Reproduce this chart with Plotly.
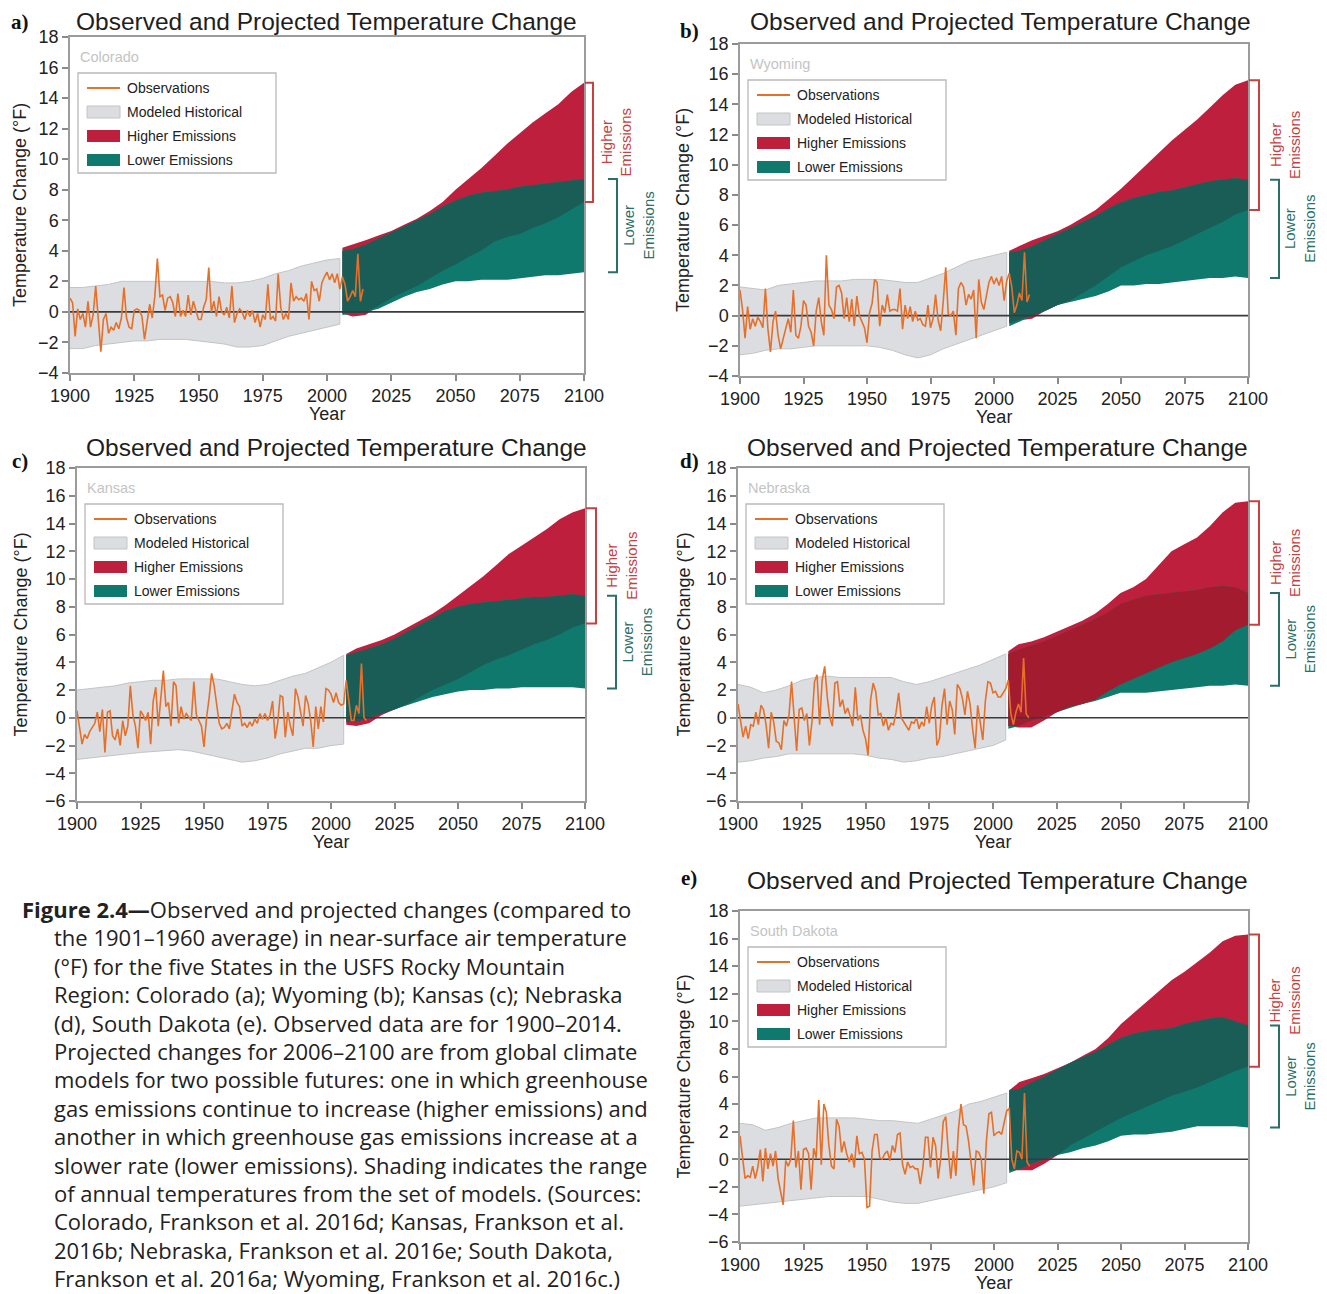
import plotly.graph_objects as go

W, H = 1327, 1294

# ---------------------------------------------------------------- data
TITLE = "Observed and Projected Temperature Change"
STATES = ["Colorado", "Wyoming", "Kansas", "Nebraska", "South Dakota"]
LETTERS = ["a)", "b)", "c)", "d)", "e)"]
LEGEND_LABELS = ["Observations", "Modeled Historical", "Higher Emissions", "Lower Emissions"]
X_TICKS = [1900, 1925, 1950, 1975, 2000, 2025, 2050, 2075, 2100]
Y_RANGES = [(-4, 18), (-4, 18), (-6, 18), (-6, 18), (-6, 18)]

OBS_YEARS = list(range(1900, 2015))
HIST_YEARS = list(range(1900, 2006, 5))
PROJ_YEARS = [2006] + list(range(2010, 2101, 5))

# Colorado
CO_OBS = [0.9, 0.6, -1.6, 0.2, -0.5, -0.1, -1.0, 0.7, -1.0, -0.2,
          1.7, -0.7, -2.6, -0.5, -0.1, -1.4, -1.0, -1.2, -0.7, -1.1,
          -0.4, 1.6, -0.4, -1.0, -1.1, 0.1, 0.2, 0.1, -0.3, -1.8,
          -0.7, 0.5, -0.4, 1.0, 3.5, 1.0, 1.1, 0.1, 0.9, 1.0,
          0.6, -0.3, 1.2, -0.3, 0.1, -0.3, 1.1, -0.2, 0.7, 0.1,
          -0.5, -0.5, 0.3, 0.8, 2.9, 0.0, 0.7, -0.3, 1.0, 0.0,
          -0.2, 0.3, -0.4, 1.7, -0.7, -0.1, 0.2, 0.0, -0.5, 0.1,
          -0.3, 0.1, -0.7, -0.1, -1.0, -0.2, -0.5, 1.8, -0.5, -0.3,
          -0.6, 2.5, 0.3, -0.5, -0.1, -0.5, 1.9, 0.7, 1.0, 0.8,
          0.9, 0.7, 1.2, -0.5, 2.0, 1.4, 1.5, 0.7, 1.9, 2.3,
          2.6, 2.1, 2.5, 1.9, 2.5, 1.5, 2.3, 1.8, 0.7, 1.0,
          1.4, 1.0, 3.8, 0.7, 1.5]
CO_HIST_HI = [1.6, 1.6, 1.7, 1.8, 2.0, 2.0, 2.0, 2.0, 2.0, 2.0, 2.0,
              2.0, 1.9, 1.9, 2.0, 2.2, 2.5, 2.7, 3.0, 3.2, 3.4, 3.5]
CO_HIST_LO = [-2.4, -2.4, -2.2, -2.1, -2.0, -1.9, -1.9, -1.8, -1.8, -1.8, -1.9,
              -2.0, -2.1, -2.3, -2.3, -2.2, -1.9, -1.6, -1.4, -1.2, -1.0, -0.8]
CO_HIGH_MAX = [4.2, 4.4, 4.7, 5.0, 5.3, 5.7, 6.1, 6.6, 7.2, 8.0,
               8.7, 9.4, 10.2, 11.0, 11.7, 12.4, 13.0, 13.6, 14.4, 15.0]
CO_HIGH_MIN = [-0.1, -0.3, -0.2, 0.4, 0.9, 1.3, 1.7, 2.2, 2.7, 3.1,
               3.6, 4.0, 4.6, 4.9, 5.1, 5.5, 5.8, 6.2, 6.7, 7.2]
CO_LOW_MAX = [4.0, 4.1, 4.4, 4.8, 5.2, 5.6, 6.0, 6.4, 6.9, 7.3,
              7.6, 7.8, 7.9, 8.0, 8.2, 8.3, 8.4, 8.5, 8.6, 8.7]
CO_LOW_MIN = [-0.2, -0.1, 0.0, 0.2, 0.6, 1.0, 1.3, 1.5, 1.8, 2.0,
              2.0, 2.1, 2.1, 2.1, 2.2, 2.3, 2.4, 2.4, 2.5, 2.6]

# Wyoming
WY_OBS = [1.7, 0.4, -1.5, 0.6, -0.9, -0.2, -0.7, -0.1, -0.4, -0.8,
          1.8, -0.9, -2.4, -0.4, 0.3, -1.3, -2.2, -1.5, -0.7, -0.2,
          -1.1, 1.7, -1.3, -1.5, -0.7, 1.0, 0.7, -0.7, -1.1, -2.0,
          0.3, 1.2, -0.4, -1.3, 4.0, 0.7, 0.4, -0.2, 1.9, 2.0,
          1.5, -0.2, 1.2, -0.4, 1.1, -0.7, 1.3, 0.0, -0.4, -0.8,
          -1.8, 0.2, 0.8, 2.4, 2.2, -0.7, 0.7, 0.2, 1.4, 0.3,
          0.4, 0.4, 0.3, 1.8, -0.9, 0.7, -0.2, 0.6, -0.4, 0.3,
          -0.3, -0.2, -0.6, -0.7, 0.7, -0.8, -0.2, 1.4, -0.3, -1.0,
          0.9, 3.2, 0.1, 0.0, 0.3, -1.3, 1.8, 2.2, 1.9, 0.7,
          1.4, 1.1, 1.7, -1.5, 2.4, 0.9, 0.4, 1.3, 2.2, 2.6,
          2.1, 2.5, 2.0, 2.6, 1.0, 2.3, 2.8, 1.9, 0.2, 0.7,
          1.5, 1.0, 4.2, 0.9, 1.4]
WY_HIST_HI = [1.9, 1.8, 1.7, 2.0, 2.1, 2.2, 2.3, 2.3, 2.3, 2.4, 2.4,
              2.4, 2.3, 2.2, 2.2, 2.5, 2.8, 3.2, 3.6, 3.8, 4.0, 4.2]
WY_HIST_LO = [-2.6, -2.5, -2.3, -2.2, -2.2, -2.1, -2.0, -2.0, -2.0, -2.0, -2.0,
              -2.1, -2.3, -2.6, -2.8, -2.6, -2.2, -1.9, -1.6, -1.3, -1.0, -0.7]
WY_HIGH_MAX = [4.3, 4.6, 5.0, 5.3, 5.6, 6.0, 6.5, 7.0, 7.7, 8.4,
               9.2, 10.0, 10.8, 11.6, 12.3, 13.0, 13.8, 14.6, 15.3, 15.6]
WY_HIGH_MIN = [-0.5, -0.3, -0.2, 0.3, 0.7, 1.0, 1.5, 2.0, 2.6, 3.2,
               3.6, 4.0, 4.3, 4.6, 5.0, 5.4, 5.8, 6.2, 6.7, 7.0]
WY_LOW_MAX = [4.2, 4.3, 4.6, 5.0, 5.4, 5.8, 6.2, 6.6, 7.1, 7.5,
              7.8, 8.0, 8.2, 8.3, 8.5, 8.7, 8.9, 9.0, 9.1, 9.0]
WY_LOW_MIN = [-0.7, -0.4, 0.0, 0.3, 0.7, 0.9, 1.1, 1.3, 1.6, 2.0,
              2.0, 2.1, 2.1, 2.2, 2.3, 2.4, 2.5, 2.5, 2.6, 2.5]

# Kansas
KS_OBS = [0.5, -0.6, -1.9, -1.2, -1.5, -1.0, -0.7, -0.4, 0.4, -1.0,
          0.6, -2.5, 0.4, 0.5, -1.3, -1.6, -0.8, -2.0, -0.2, -1.3,
          -0.6, 2.3, 0.2, -0.6, -2.2, 0.5, 0.2, -0.2, 0.4, -1.9,
          1.2, 2.2, -0.6, 1.6, 3.4, 0.8, 1.1, -0.6, 2.6, 2.3,
          -0.4, 0.8, -0.1, 0.3, 0.0, -0.2, 2.6, 0.2, -0.2, -0.6,
          -2.1, 0.0, 1.4, 3.2, 2.3, 1.0, -0.4, -0.8, -0.7, -0.4,
          -0.8, 0.5, 1.7, 1.1, 0.8, -0.6, -0.4, -0.7, -0.3, -0.6,
          -0.1, -0.4, 0.3, -0.1, 0.3, -0.2, 0.2, 1.2, -1.5, -0.4,
          1.6, 1.5, -1.4, 0.4, -0.6, -1.3, 2.1, 1.5, 0.3, -0.6,
          1.6, 1.0, -0.2, -2.1, 0.8, -0.8, 0.8, -0.3, 2.1, 2.0,
          1.7, 1.1, 1.8, 1.1, 0.9, 1.0, 2.7, 1.4, -0.2, -0.2,
          0.9, 0.3, 3.9, 0.0, -0.2]
KS_HIST_HI = [2.0, 2.1, 2.2, 2.3, 2.5, 2.6, 2.7, 2.7, 2.8, 2.8, 2.8,
              2.8, 2.6, 2.4, 2.3, 2.4, 2.7, 3.0, 3.2, 3.6, 4.0, 4.5]
KS_HIST_LO = [-3.0, -2.9, -2.8, -2.7, -2.6, -2.5, -2.4, -2.35, -2.3, -2.4, -2.6,
              -2.8, -3.0, -3.2, -3.1, -2.9, -2.6, -2.4, -2.2, -2.2, -2.0, -1.9]
KS_HIGH_MAX = [4.6, 5.0, 5.3, 5.6, 6.0, 6.5, 7.0, 7.5, 8.1, 8.8,
               9.5, 10.2, 11.0, 11.8, 12.4, 13.0, 13.6, 14.3, 14.8, 15.1]
KS_HIGH_MIN = [-0.5, -0.6, -0.4, 0.2, 0.6, 1.0, 1.5, 2.0, 2.4, 2.8,
               3.3, 3.8, 4.2, 4.5, 4.9, 5.3, 5.6, 6.0, 6.5, 6.8]
KS_LOW_MAX = [4.5, 4.7, 5.0, 5.3, 5.7, 6.2, 6.7, 7.2, 7.7, 8.0,
              8.2, 8.3, 8.4, 8.5, 8.6, 8.7, 8.7, 8.8, 8.9, 8.8]
KS_LOW_MIN = [-0.3, -0.3, 0.0, 0.3, 0.6, 0.9, 1.2, 1.5, 1.7, 1.9,
              2.0, 2.0, 2.1, 2.1, 2.2, 2.2, 2.2, 2.2, 2.2, 2.1]

# Nebraska
NE_OBS = [1.0, -0.3, -1.4, -0.6, -1.5, -0.5, -0.6, 0.4, -0.5, 0.9,
          0.6, -0.5, -2.2, 0.4, -0.3, -1.7, -1.8, -2.3, -0.2, -0.6,
          0.2, 2.6, -0.3, -2.4, 0.6, 0.7, -0.2, 0.3, -2.0, -0.3,
          2.6, 3.1, -0.5, 2.7, 3.7, 1.5, 0.0, -0.6, 2.5, 2.6,
          0.8, 1.3, 0.3, 0.7, 0.1, -0.6, 2.2, -0.2, 0.2, -0.9,
          -1.5, -2.7, 1.3, 2.5, 1.9, 0.2, 0.3, -0.6, 0.0, -0.9,
          -0.4, -0.5, 0.4, 1.8, 0.0, -0.3, -0.5, -0.9, -0.3, -0.4,
          0.0, -0.8, -0.3, -0.6, 0.8, -0.4, 0.9, 1.5, -2.0, -1.5,
          0.9, 2.1, -0.5, 1.2, 0.6, -1.2, 2.4, 2.1, 1.4, 0.2,
          1.9, 1.0, -0.8, -2.2, 0.9, -0.2, -1.6, 1.2, 2.6, 2.5,
          1.8, 1.9, 1.5, 1.5, 1.8, 2.1, 2.7, 0.3, -0.5, 0.4,
          1.0, 0.4, 4.3, 0.3, 0.0]
NE_HIST_HI = [2.4, 2.2, 1.8, 2.0, 2.3, 2.7, 2.9, 3.0, 2.9, 2.9, 2.9,
              2.9, 2.9, 2.6, 2.4, 2.6, 2.9, 3.2, 3.5, 3.8, 4.2, 4.6]
NE_HIST_LO = [-3.2, -3.1, -2.9, -2.8, -2.6, -2.6, -2.6, -2.6, -2.6, -2.6, -2.7,
              -2.9, -3.0, -3.2, -3.1, -2.9, -2.8, -2.6, -2.4, -2.2, -2.0, -1.6]
NE_HIGH_MAX = [4.8, 5.3, 5.5, 5.8, 6.2, 6.6, 7.0, 7.5, 8.2, 9.0,
               9.4, 10.0, 11.0, 12.0, 12.5, 13.0, 13.8, 14.8, 15.5, 15.6]
NE_HIGH_MIN = [-0.6, -0.7, -0.7, -0.2, 0.4, 0.8, 1.0, 1.3, 1.9, 2.4,
               2.8, 3.2, 3.6, 4.0, 4.3, 4.6, 5.0, 5.5, 6.3, 6.7]
NE_LOW_MAX = [4.6, 4.9, 5.2, 5.5, 5.9, 6.3, 6.7, 7.1, 7.6, 8.2,
              8.5, 8.8, 8.9, 9.0, 9.1, 9.2, 9.4, 9.5, 9.4, 9.0]
NE_LOW_MIN = [-0.8, -0.6, -0.2, 0.1, 0.4, 0.7, 1.0, 1.2, 1.5, 1.8,
              1.8, 1.8, 1.9, 2.0, 2.1, 2.2, 2.3, 2.3, 2.4, 2.3]

# South Dakota
SD_OBS = [1.7, 0.2, -1.4, -1.2, -1.3, -0.5, -1.4, -0.6, 0.7, -1.6,
          0.8, -0.7, 0.4, -0.5, 0.6, -1.4, -2.4, -3.3, -0.1, -0.5,
          0.0, 2.8, -0.6, 0.6, -2.2, 0.7, 0.8, 0.4, -2.2, 0.8,
          0.1, 4.3, -0.4, 4.0, 3.4, 1.0, -0.5, -0.7, 2.9, 2.4,
          0.5, 1.3, 0.4, -0.2, 0.4, -0.6, 1.7, 0.4, 0.5, 0.0,
          -3.5, -3.4, 0.6, 1.8, 1.8, 0.1, 0.0, 0.4, 0.6, -0.1,
          1.0, 0.5, 1.8, 1.9, -0.4, -1.1, -0.2, -0.6, -0.5, -0.7,
          -0.7, -1.8, -0.6, 1.6, 1.6, -0.6, 1.6, 1.0, -1.4, 0.0,
          2.7, 3.1, 0.6, -1.4, 0.6, -1.2, 2.2, 4.0, 2.5, 2.4,
          1.3, -0.2, -1.9, 0.6, 0.5, 0.0, -2.5, 1.3, 3.3, 3.4,
          1.7, 1.9, 2.0, 1.8, 2.7, 3.5, 3.7, 0.0, -0.7, 0.6,
          0.5, 0.0, 4.8, -0.2, -0.5]
SD_HIST_HI = [2.6, 2.5, 2.1, 2.3, 2.6, 2.8, 3.0, 3.0, 3.0, 3.0, 2.9,
              2.8, 2.8, 2.7, 2.6, 2.9, 3.2, 3.5, 4.0, 4.2, 4.5, 4.8]
SD_HIST_LO = [-3.4, -3.3, -3.2, -3.1, -3.0, -2.9, -2.8, -2.7, -2.7, -2.7, -2.7,
              -2.9, -3.1, -3.2, -3.2, -3.0, -2.8, -2.6, -2.4, -2.2, -2.0, -1.7]
SD_HIGH_MAX = [5.0, 5.6, 5.9, 6.2, 6.6, 7.0, 7.5, 8.0, 8.8, 9.8,
               10.6, 11.4, 12.2, 13.0, 13.6, 14.3, 15.0, 15.8, 16.2, 16.3]
SD_HIGH_MIN = [-0.8, -0.8, -0.8, -0.3, 0.3, 1.0, 1.5, 2.0, 2.5, 3.0,
               3.4, 3.8, 4.2, 4.6, 4.9, 5.2, 5.6, 6.0, 6.4, 6.7]
SD_LOW_MAX = [5.0, 5.1, 5.6, 6.0, 6.5, 7.0, 7.4, 7.8, 8.3, 8.8,
              9.1, 9.3, 9.4, 9.5, 9.8, 10.0, 10.2, 10.3, 10.0, 9.7]
SD_LOW_MIN = [-1.0, -0.7, -0.3, 0.0, 0.3, 0.5, 0.8, 1.0, 1.3, 1.7,
              1.8, 1.8, 1.9, 2.0, 2.2, 2.4, 2.4, 2.4, 2.4, 2.3]

CAPTION_LINES = [
    "<b>Figure 2.4—</b>Observed and projected changes (compared to",
    "the 1901–1960 average) in near-surface air temperature",
    "(°F) for the five States in the USFS Rocky Mountain",
    "Region: Colorado (a); Wyoming (b); Kansas (c); Nebraska",
    "(d), South Dakota (e). Observed data are for 1900–2014.",
    "Projected changes for 2006–2100 are from global climate",
    "models for two possible futures: one in which greenhouse",
    "gas emissions continue to increase (higher emissions) and",
    "another in which greenhouse gas emissions increase at a",
    "slower rate (lower emissions). Shading indicates the range",
    "of annual temperatures from the set of models. (Sources:",
    "Colorado, Frankson et al. 2016d; Kansas, Frankson et al.",
    "2016b; Nebraska, Frankson et al. 2016e; South Dakota,",
    "Frankson et al. 2016a; Wyoming, Frankson et al. 2016c.)",
]

PANELS = [
    (CO_OBS, CO_HIST_HI, CO_HIST_LO, CO_HIGH_MAX, CO_HIGH_MIN, CO_LOW_MAX, CO_LOW_MIN),
    (WY_OBS, WY_HIST_HI, WY_HIST_LO, WY_HIGH_MAX, WY_HIGH_MIN, WY_LOW_MAX, WY_LOW_MIN),
    (KS_OBS, KS_HIST_HI, KS_HIST_LO, KS_HIGH_MAX, KS_HIGH_MIN, KS_LOW_MAX, KS_LOW_MIN),
    (NE_OBS, NE_HIST_HI, NE_HIST_LO, NE_HIGH_MAX, NE_HIGH_MIN, NE_LOW_MAX, NE_LOW_MIN),
    (SD_OBS, SD_HIST_HI, SD_HIST_LO, SD_HIGH_MAX, SD_HIGH_MIN, SD_LOW_MAX, SD_LOW_MIN),
]

# ---------------------------------------------------------------- style / layout
# The page body has an 8px margin, so the figure is drawn 8px smaller and
# every reference pixel position is shifted by that offset.
OFF = 8
FW, FH = W - OFF, H - OFF

FRAMES = [(70, 584, 37, 373), (740, 1248, 44, 376), (77, 585, 468, 801),
          (738, 1248, 468, 801), (740, 1248, 911, 1242)]
TITLE_POS = [(326, 21), (1000, 21), (336, 448), (998, 448), (998, 880)]
LETTER_POS = [(20, 22), (689, 31), (20, 461), (689, 461), (689, 878)]
YTITLE_X = [20, 683, 20, 683, 683]
# bracket offsets from the right frame edge: red vertical, teal vertical, red text, teal text
BRACKET_OFF = [(9, 33, 32, 55), (11, 31, 37, 52), (11, 31, 37, 52),
               (11, 31, 37, 52), (11, 31, 37, 52)]

C_GRAY = "#dcdde0"
C_GRAY_EDGE = "#c3c4c6"
C_RED = "#bd1f3c"
C_TEAL = "#10796d"
C_DARK_TEAL = "#1a5d57"
C_DARK_RED = "#a31b2f"
C_OBS = "#e6702a"
OVERLAP = [C_DARK_TEAL, C_DARK_TEAL, C_DARK_TEAL, C_DARK_RED, C_DARK_TEAL]
C_BR_RED = "#c9403f"
C_BR_TEAL = "#2b6f67"

F_SANS = "Liberation Sans, Arial, sans-serif"
F_SERIF = "Liberation Serif, Times New Roman, serif"
F_CAP = "Open Sans, Noto Sans, sans-serif"


def px(x):
    return (x - OFF) / FW


def py(y):
    return 1 - (y - OFF) / FH


def poly(xs, hi, lo):
    return list(xs) + list(xs)[::-1], list(hi) + list(lo)[::-1]


fig = go.Figure()
layout = dict(width=FW, height=FH, margin=dict(l=0, r=0, t=0, b=0, autoexpand=False),
              paper_bgcolor="white", plot_bgcolor="white", showlegend=False)
shapes, annos = [], []

for i, (obs, hh, hl, gmax, gmin, lmax, lmin) in enumerate(PANELS):
    n = "" if i == 0 else str(i + 1)
    xa, ya = "x" + n, "y" + n
    l, r, t, b = FRAMES[i]
    y0, y1 = Y_RANGES[i]

    common = dict(xaxis=xa, yaxis=ya, hoverinfo="skip", showlegend=False)
    # modeled historical band
    xs, ys = poly(HIST_YEARS, hh, hl)
    fig.add_trace(go.Scatter(x=xs, y=ys, fill="toself", fillcolor=C_GRAY, mode="lines",
                             line=dict(color=C_GRAY_EDGE, width=1), **common))
    # higher emissions band
    xs, ys = poly(PROJ_YEARS, gmax, gmin)
    fig.add_trace(go.Scatter(x=xs, y=ys, fill="toself", fillcolor=C_RED, mode="lines",
                             line=dict(width=0, color=C_RED), **common))
    # lower emissions band
    xs, ys = poly(PROJ_YEARS, lmax, lmin)
    fig.add_trace(go.Scatter(x=xs, y=ys, fill="toself", fillcolor=C_TEAL, mode="lines",
                             line=dict(width=0, color=C_TEAL), **common))
    # overlap of the two scenario ranges
    ov_hi = [min(a, c) for a, c in zip(gmax, lmax)]
    ov_lo = [max(a, c) for a, c in zip(gmin, lmin)]
    xs, ys = poly(PROJ_YEARS, ov_hi, ov_lo)
    fig.add_trace(go.Scatter(x=xs, y=ys, fill="toself", fillcolor=OVERLAP[i], mode="lines",
                             line=dict(width=0, color=OVERLAP[i]), **common))
    # zero line
    fig.add_trace(go.Scatter(x=[X_TICKS[0], X_TICKS[-1]], y=[0, 0], mode="lines",
                             line=dict(color="#3a3a3a", width=1.6), **common))
    # observations
    fig.add_trace(go.Scatter(x=OBS_YEARS, y=obs, mode="lines",
                             line=dict(color=C_OBS, width=1.6), **common))

    layout["xaxis" + n] = dict(domain=[px(l), px(r)], range=[1900, 2100], anchor=ya,
                               tickvals=X_TICKS, ticks="outside", ticklen=6, tickwidth=1.5,
                               tickcolor="#8a8a8a", showline=True, linecolor="#9c9c9c",
                               linewidth=1.5, mirror=True, showgrid=False, zeroline=False,
                               tickfont=dict(family=F_SANS, size=18, color="#222"))
    layout["yaxis" + n] = dict(domain=[py(b), py(t)], range=[y0, y1], anchor=xa,
                               tickvals=list(range(y0, y1 + 1, 2)), ticks="outside",
                               ticklen=6, tickwidth=1.5, tickcolor="#8a8a8a", showline=True,
                               linecolor="#9c9c9c", linewidth=1.5, mirror=True,
                               showgrid=False, zeroline=False,
                               tickfont=dict(family=F_SANS, size=18, color="#222"))

    # titles and labels
    tx, ty = TITLE_POS[i]
    annos.append(dict(text=TITLE, x=px(tx), y=py(ty), xref="paper", yref="paper",
                      showarrow=False, xanchor="center", yanchor="middle",
                      font=dict(family=F_SANS, size=24.5, color="#1e1e1e")))
    lx, ly = LETTER_POS[i]
    annos.append(dict(text="<b>" + LETTERS[i] + "</b>", x=px(lx), y=py(ly), xref="paper",
                      yref="paper", showarrow=False, xanchor="center", yanchor="middle",
                      font=dict(family=F_SERIF, size=21, color="#111")))
    annos.append(dict(text="Temperature Change (°F)", x=px(YTITLE_X[i]), y=py((t + b) / 2),
                      xref="paper", yref="paper", showarrow=False, textangle=-90,
                      xanchor="center", yanchor="middle",
                      font=dict(family=F_SANS, size=18, color="#222")))
    annos.append(dict(text="Year", x=px((l + r) / 2), y=py(b + 41), xref="paper", yref="paper",
                      showarrow=False, xanchor="center", yanchor="middle",
                      font=dict(family=F_SANS, size=18, color="#222")))
    annos.append(dict(text=STATES[i], x=px(l + 8), y=py(t + 20), xref="paper", yref="paper",
                      showarrow=False, xanchor="left", yanchor="middle",
                      font=dict(family=F_SANS, size=14.5, color="#c4c4c4")))

    # legend box
    bl, bt = l + 8, t + 36
    bw, bh = 198, 100
    shapes.append(dict(type="rect", xref="paper", yref="paper", x0=px(bl), x1=px(bl + bw),
                       y0=py(bt), y1=py(bt + bh), line=dict(color="#b9b9b9", width=1.3),
                       fillcolor="white", layer="above"))
    sym_colors = [C_OBS, C_GRAY, C_RED, C_TEAL]
    for k, lab in enumerate(LEGEND_LABELS):
        cy = bt + 15 + 24 * k
        if k == 0:
            shapes.append(dict(type="line", xref="paper", yref="paper", x0=px(bl + 9),
                               x1=px(bl + 42), y0=py(cy), y1=py(cy),
                               line=dict(color=C_OBS, width=2), layer="above"))
        else:
            shapes.append(dict(type="rect", xref="paper", yref="paper", x0=px(bl + 9),
                               x1=px(bl + 42), y0=py(cy - 6), y1=py(cy + 6),
                               fillcolor=sym_colors[k],
                               line=dict(color=C_GRAY_EDGE if k == 1 else sym_colors[k],
                                         width=1 if k == 1 else 0),
                               layer="above"))
        annos.append(dict(text=lab, x=px(bl + 47), y=py(cy), xref="paper", yref="paper",
                          showarrow=False, xanchor="left", yanchor="middle",
                          font=dict(family=F_SANS, size=14, color="#222")))

    # brackets on the right, spanning the 2100 ranges
    o_r, o_t, o_rt, o_tt = BRACKET_OFF[i]
    xr0, xr1 = px(r + 1), px(r + o_r)
    shapes.append(dict(type="path", xref="paper", yref=ya,
                       path=f"M {xr0},{gmax[-1]} L {xr1},{gmax[-1]} L {xr1},{gmin[-1]} L {xr0},{gmin[-1]}",
                       line=dict(color=C_BR_RED, width=2)))
    xt0, xt1 = px(r + o_t - 9), px(r + o_t)
    shapes.append(dict(type="path", xref="paper", yref=ya,
                       path=f"M {xt0},{lmax[-1]} L {xt1},{lmax[-1]} L {xt1},{lmin[-1]} L {xt0},{lmin[-1]}",
                       line=dict(color=C_BR_TEAL, width=2)))
    annos.append(dict(text="Higher<br>Emissions", x=px(r + o_rt), y=(gmax[-1] + gmin[-1]) / 2,
                      xref="paper", yref=ya, showarrow=False, textangle=-90,
                      xanchor="center", yanchor="middle",
                      font=dict(family=F_SANS, size=15, color=C_BR_RED)))
    annos.append(dict(text="Lower<br>Emissions", x=px(r + o_tt), y=(lmax[-1] + lmin[-1]) / 2,
                      xref="paper", yref=ya, showarrow=False, textangle=-90,
                      xanchor="center", yanchor="middle",
                      font=dict(family=F_SANS, size=15, color=C_BR_TEAL)))

# caption
for k, line in enumerate(CAPTION_LINES):
    annos.append(dict(text=line, x=px(20 if k == 0 else 52), y=py(909 + 28.4 * k),
                      xref="paper", yref="paper", showarrow=False, xanchor="left",
                      yanchor="middle", font=dict(family=F_CAP, size=22, color="#222")))

layout["shapes"] = shapes
layout["annotations"] = annos
fig.update_layout(**layout)
fig.write_html("out.html")
